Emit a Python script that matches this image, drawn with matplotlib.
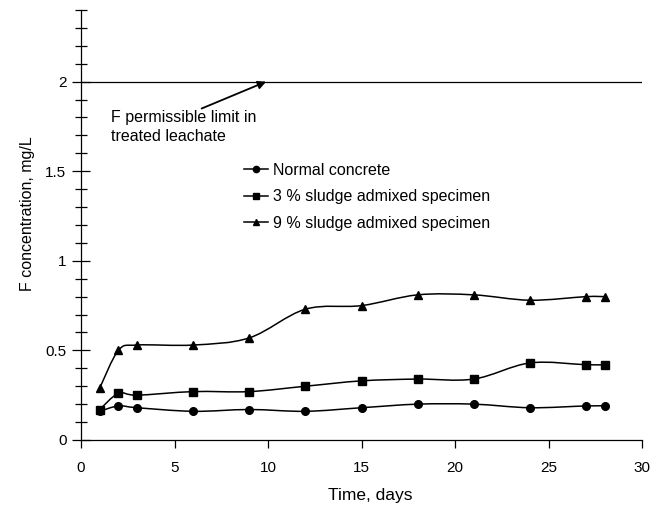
import numpy as np
import matplotlib
matplotlib.use("Agg")
import matplotlib.pyplot as plt
from matplotlib.path import Path
from matplotlib.patches import PathPatch
from matplotlib.ticker import MultipleLocator

plt.rcParams['font.family'] = ['Liberation Sans', 'DejaVu Sans']

days = [1, 2, 3, 6, 9, 12, 15, 18, 21, 24, 27, 28]
normal = [0.16, 0.19, 0.18, 0.16, 0.17, 0.16, 0.18, 0.20, 0.20, 0.18, 0.19, 0.19]
sludge3 = [0.17, 0.26, 0.25, 0.27, 0.27, 0.30, 0.33, 0.34, 0.34, 0.43, 0.42, 0.42]
sludge9 = [0.29, 0.50, 0.53, 0.53, 0.57, 0.73, 0.75, 0.81, 0.81, 0.78, 0.80, 0.80]
series_labels = ["Normal concrete", "3 % sludge admixed specimen", "9 % sludge admixed specimen"]
limit = 2.0
limit_text = "F permissible limit in\ntreated leachate"


def smooth_path(x, y):
    p = np.column_stack([x, y]).astype(float)
    n = len(p)
    verts = [p[0]]
    codes = [Path.MOVETO]
    for i in range(n - 1):
        pm = p[i - 1] if i > 0 else p[i]
        pp = p[i + 2] if i + 2 < n else p[i + 1]
        c1 = p[i] + (p[i + 1] - pm) / 6.0
        c2 = p[i + 1] - (pp - p[i]) / 6.0
        verts += [c1, c2, p[i + 1]]
        codes += [Path.CURVE4] * 3
    return Path(verts, codes)


fig = plt.figure(figsize=(6.62, 5.09), dpi=100)
ax = fig.add_axes([0.1224, 0.1356, 0.8474, 0.8448])

markers = ['o', 's', '^']
for vals, m, lab in zip([normal, sludge3, sludge9], markers, series_labels):
    ax.add_patch(PathPatch(smooth_path(days, vals), facecolor='none', edgecolor='black', lw=1.1))
    ax.plot(days, vals, linestyle='none', marker=m, color='black', markersize=5.5)
    ax.plot([], [], color='black', lw=1.1, marker=m, markersize=4.5, label=lab)

ax.axhline(limit, color='black', lw=0.9)
ax.text(1.6, 1.84, limit_text, fontsize=11.5, va='top', ha='left', linespacing=1.3)
ax.annotate('', xy=(9.9, 2.0), xytext=(6.45, 1.85),
            arrowprops=dict(arrowstyle='-|>', color='black', lw=1.3, mutation_scale=12,
                            shrinkA=0, shrinkB=0))

ax.set_xlim(0, 30)
ax.set_ylim(0, 2.4)
ax.xaxis.set_major_locator(MultipleLocator(5))
ax.yaxis.set_minor_locator(MultipleLocator(0.1))
ax.set_yticks([0, 0.5, 1, 1.5, 2])
ax.set_yticklabels(['0', '0.5', '1', '1.5', '2'])
ax.tick_params(axis='y', which='major', direction='inout', length=13, width=0.9, labelsize=11, pad=4)
ax.tick_params(axis='y', which='minor', direction='inout', length=8, width=0.9)
ax.tick_params(axis='x', which='major', direction='out', length=6, width=0.9, labelsize=11, pad=9)
for s in ['top', 'right']:
    ax.spines[s].set_visible(False)
for s in ['left', 'bottom']:
    ax.spines[s].set_linewidth(0.9)

ax.set_xlabel('Time, days', fontsize=12.5)
ax.set_ylabel('F concentration, mg/L', fontsize=11.5)
ax.xaxis.set_label_coords(0.516, -0.112)
ax.yaxis.set_label_coords(-0.082, 0.526)

ax.legend(loc='upper left', bbox_to_anchor=(0.2906, 0.645), frameon=False, fontsize=11.5,
          handlelength=1.5, handletextpad=0.3, labelspacing=0.72, borderaxespad=0, borderpad=0)

fig.savefig('out.png', dpi=100)
